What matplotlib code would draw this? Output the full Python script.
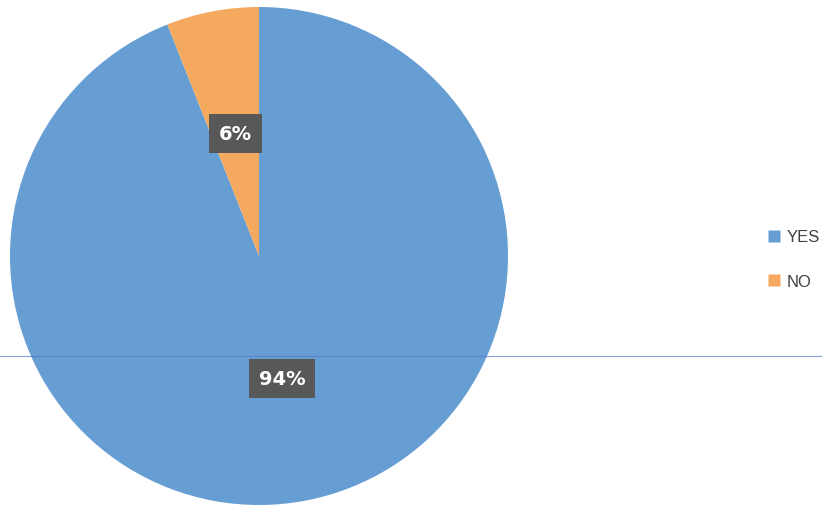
import matplotlib.pyplot as plt
from matplotlib.lines import Line2D

labels = ["YES", "NO"]
shares = [94, 6]
colors = ["#669DD3", "#F4A95F"]

fig = plt.figure(figsize=(8.22, 5.06), dpi=100)

# pie sits on the left, radius ~249 px
ax = fig.add_axes([10 / 822, 0 / 506, 498 / 822, 498 / 506])
wedges, texts, autotexts = ax.pie(
    shares,
    colors=colors,
    startangle=90,
    counterclock=False,
    radius=1.0,
    autopct="%d%%",
    pctdistance=0.5,
    wedgeprops=dict(linewidth=0),
    textprops=dict(color="white", fontsize=14, fontweight="bold"),
)
for t in autotexts:
    t.set_bbox(dict(boxstyle="square,pad=0.5", facecolor="#585858", edgecolor="none"))
ax.set_xlim(-1, 1)
ax.set_ylim(-1, 1)
ax.set_aspect("equal")
ax.axis("off")

handles = [
    Line2D([], [], marker="s", linestyle="none", markersize=8,
           markerfacecolor=c, markeredgecolor="none")
    for c in colors
]
fig.legend(handles, labels, loc="center left", bbox_to_anchor=(756 / 822, 1 - 260 / 506),
           frameon=False, fontsize=11.5, labelcolor="#404040", handletextpad=0.25,
           labelspacing=1.75, handlelength=1.0, borderaxespad=0.2,
           prop=dict(family="Liberation Sans", size=12))

# thin rule across the page
fig.add_artist(Line2D([0, 1], [1 - 357 / 506, 1 - 357 / 506], transform=fig.transFigure,
                      color="#5A78C8", linewidth=0.8, alpha=0.7))

fig.savefig("out.png", dpi=100)
